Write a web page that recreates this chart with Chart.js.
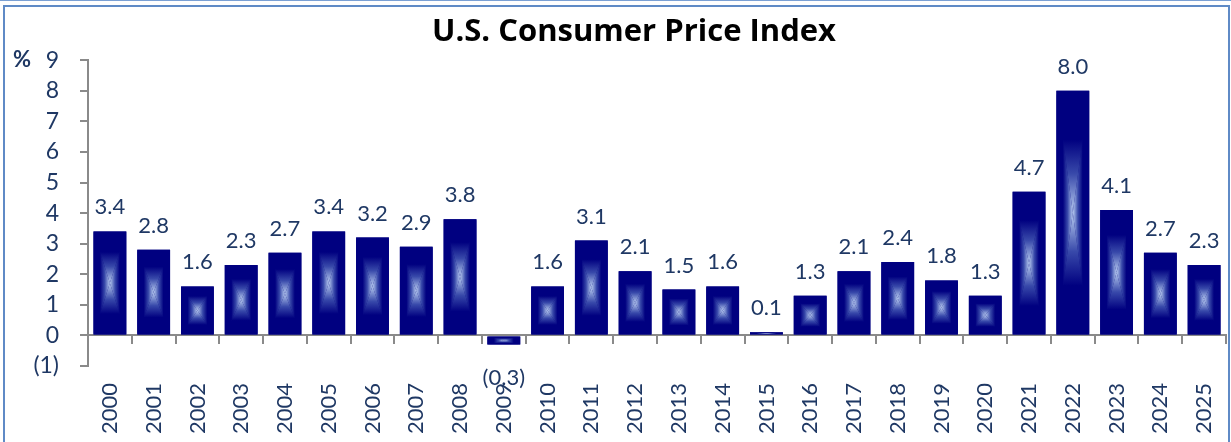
<!DOCTYPE html>
<html>
<head>
<meta charset="utf-8">
<script src="https://cdn.jsdelivr.net/npm/chart.js@4/dist/chart.umd.min.js"></script>
<style>
html, body { margin: 0; padding: 0; background: #fff; overflow: hidden; }
#wrap { position: relative; width: 1231px; height: 442px; overflow: hidden; }
.topline { position: absolute; left: 0; top: 0; width: 1231px; height: 1px; background: #7aa0d4; }
.frame { position: absolute; left: 3px; top: 5px; width: 1227px; height: 460px; border: 2px solid #5f8ac6; box-sizing: border-box; }
canvas { position: absolute; left: 0; top: 0; }
</style>
</head>
<body>
<div id="wrap">
  <div class="topline"></div>
  <div class="frame"></div>
  <!-- canvas is a bit wider than the window so the title centres where the original has it -->
  <canvas id="cpiChart" width="1268" height="442"></canvas>
</div>
<script>
// Data
const years = ['2000', '2001', '2002', '2003', '2004', '2005', '2006', '2007', '2008', '2009',
  '2010', '2011', '2012', '2013', '2014', '2015', '2016', '2017', '2018', '2019',
  '2020', '2021', '2022', '2023', '2024', '2025'];
const cpi = [3.4, 2.8, 1.6, 2.3, 2.7, 3.4, 3.2, 2.9, 3.8, -0.3,
  1.6, 3.1, 2.1, 1.5, 1.6, 0.1, 1.3, 2.1, 2.4, 1.8,
  1.3, 4.7, 8.0, 4.1, 2.7, 2.3];
const yMin = -1;
const yMax = 9;
const unitLabel = '%';

const FONT = 'Lato, "Open Sans", sans-serif';
const TEXT = '#1f3864';
const AXIS = '#8a8a8a';
const NAVY = '#000080';

// negative numbers shown in brackets, like (0.3)
const fmt = (v, d) => v < 0 ? '(' + Math.abs(v).toFixed(d) + ')' : v.toFixed(d);

// rectangular "from centre" shading inside one bar
function drawGlow(ctx, l, t, r, b) {
  const cx = (l + r) / 2, cy = (t + b) / 2;
  const parts = [
    [[l, t], [r, t], [cx, t]],
    [[r, b], [l, b], [cx, b]],
    [[l, b], [l, t], [l, cy]],
    [[r, t], [r, b], [r, cy]]
  ];
  ctx.save();
  parts.forEach(([p1, p2, edge]) => {
    const g = ctx.createLinearGradient(edge[0], edge[1], cx, cy);
    g.addColorStop(0, NAVY);
    g.addColorStop(0.4, NAVY);
    g.addColorStop(0.68, '#3849aa');
    g.addColorStop(1, '#b8ccf0');
    ctx.fillStyle = g;
    ctx.beginPath();
    ctx.moveTo(p1[0], p1[1]);
    ctx.lineTo(p2[0], p2[1]);
    ctx.lineTo(cx, cy);
    ctx.closePath();
    ctx.fill();
  });
  ctx.restore();
}

const barDecor = {
  id: 'barDecor',
  afterDatasetsDraw(chart) {
    const ctx = chart.ctx;
    const meta = chart.getDatasetMeta(0);
    meta.data.forEach((bar, i) => {
      const { x, y, base, width } = bar.getProps(['x', 'y', 'base', 'width'], true);
      drawGlow(ctx, x - width / 2, Math.min(y, base), x + width / 2, Math.max(y, base));
      const v = cpi[i];
      ctx.save();
      ctx.font = '22px ' + FONT;
      ctx.fillStyle = TEXT;
      ctx.textAlign = 'center';
      ctx.textBaseline = 'alphabetic';
      ctx.fillText(fmt(v, 1), x, v < 0 ? y + 40 : y - 17);
      ctx.restore();
    });
    // unit sign next to the top tick
    const ys = chart.scales.y;
    ctx.save();
    ctx.font = 'bold 22px ' + FONT;
    ctx.fillStyle = TEXT;
    ctx.textBaseline = 'middle';
    ctx.fillText(unitLabel, 13, ys.getPixelForValue(yMax));
    ctx.restore();
  }
};

const ctx = document.getElementById('cpiChart').getContext('2d');
new Chart(ctx, {
  type: 'bar',
  data: {
    labels: years,
    datasets: [{
      data: cpi,
      backgroundColor: NAVY,
      borderWidth: 0,
      categoryPercentage: 1,
      barPercentage: 0.75
    }]
  },
  options: {
    responsive: false,
    animation: false,
    layout: { padding: 0 },
    scales: {
      x: {
        offset: true,
        grid: { display: false },
        border: { display: false },
        ticks: {
          minRotation: 90, maxRotation: 90, autoSkip: false, padding: 9,
          color: TEXT, font: { family: FONT, size: 22 }
        },
        afterFit(scale) { scale.height = 76; }
      },
      zero: {
        type: 'category',
        labels: years,
        axis: 'x',
        position: { y: 0 },
        offset: true,
        grid: { offset: true, drawOnChartArea: false, drawTicks: true, tickLength: 8, color: AXIS, lineWidth: 2 },
        border: { display: true, color: AXIS, width: 2 },
        ticks: { display: false }
      },
      y: {
        min: yMin,
        max: yMax,
        ticks: {
          stepSize: 1, padding: 21, color: TEXT, autoSkip: false,
          font: { family: FONT, size: 23 },
          callback: v => fmt(v, 0)
        },
        grid: { drawOnChartArea: false, drawTicks: true, tickLength: 8, color: AXIS, lineWidth: 2 },
        border: { display: true, color: AXIS, width: 2 },
        afterFit(scale) { scale.width = 88; }
      },
      // empty spacer on the right, past the window edge
      spacer: {
        type: 'linear',
        axis: 'y',
        position: 'right',
        grid: { display: false },
        border: { display: false },
        ticks: { display: false },
        afterFit(scale) { scale.width = 42; }
      }
    },
    plugins: {
      legend: { display: false },
      tooltip: { enabled: false },
      title: {
        display: true,
        text: 'U.S. Consumer Price Index',
        color: '#000',
        font: { family: '"Open Sans", Lato, sans-serif', size: 31, weight: 'bold' },
        padding: { top: 14, bottom: 9 }
      }
    }
  },
  plugins: [barDecor]
});
</script>
</body>
</html>
